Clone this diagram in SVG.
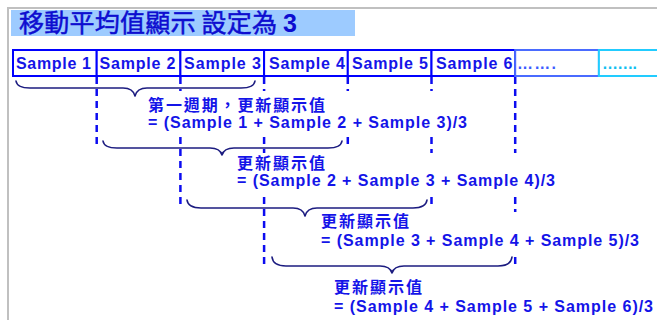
<svg xmlns="http://www.w3.org/2000/svg" width="657" height="320" viewBox="0 0 657 320">
<style>
.frame{fill:none;stroke:#c0c0c0;stroke-width:2}
.cell{fill:#fff;stroke:#0000ff;stroke-width:2}
.lbl{font-family:"Liberation Sans",Arial,sans-serif;font-weight:bold;font-size:16px;fill:#1414e8}
.cjk{font-family:"Noto Sans CJK TC","Noto Sans CJK SC",sans-serif;font-size:16px;font-weight:bold;fill:#1414e8}
.dash{stroke:#0c0cf0;stroke-width:2.5;stroke-dasharray:7 5;fill:none}
.brace{fill:none;stroke:#1c1c80;stroke-width:1.6;stroke-linecap:round;stroke-linejoin:round}
.bg{fill:#fff}
</style>
<rect width="657" height="320" fill="#fff"/>
<path class="frame" d="M8,320 V8 H657"/>
<g id="title">
<rect x="11" y="10" width="344" height="26" fill="#9dcbff"/>
<text x="19" y="32" font-family="Noto Sans CJK TC,Noto Sans CJK SC,sans-serif" font-size="25" fill="#0d0dd0" stroke="#0d0dd0" stroke-width="0.5" textLength="278" lengthAdjust="spacing">移動平均值顯示 設定為 <tspan font-family="Liberation Sans,Arial,sans-serif" font-weight="bold" stroke="none">3</tspan></text>
</g>
<g id="samples">
<g id="s1"><rect class="cell" x="13" y="50" width="83.7" height="26"/><text class="lbl" x="16" y="69" textLength="75" lengthAdjust="spacing">Sample 1</text></g>
<g id="s2"><rect class="cell" x="96.7" y="50" width="83.7" height="26"/><text class="lbl" x="99.5" y="69" textLength="76" lengthAdjust="spacing">Sample 2</text></g>
<g id="s3"><rect class="cell" x="180.4" y="50" width="83.7" height="26"/><text class="lbl" x="184" y="69" textLength="77" lengthAdjust="spacing">Sample 3</text></g>
<g id="s4"><rect class="cell" x="264.1" y="50" width="83.7" height="26"/><text class="lbl" x="269" y="69" textLength="76" lengthAdjust="spacing">Sample 4</text></g>
<g id="s5"><rect class="cell" x="347.8" y="50" width="83.7" height="26"/><text class="lbl" x="352" y="69" textLength="76" lengthAdjust="spacing">Sample 5</text></g>
<g id="s6"><rect class="cell" x="431.5" y="50" width="83.7" height="26"/><text class="lbl" x="436" y="69" textLength="76.5" lengthAdjust="spacing">Sample 6</text></g>
<g id="s7"><rect x="515.2" y="50" width="83.7" height="26" fill="#fff" stroke="#4a6bff" stroke-width="2"/><text class="lbl" x="517" y="69" style="fill:#3a5cff" textLength="39" lengthAdjust="spacing">…….</text></g>
<g id="s8"><rect x="598.9" y="50" width="70" height="26" fill="#fff" stroke="#22ccff" stroke-width="2"/><text class="lbl" x="602" y="69" style="fill:#10c0f0" textLength="35" lengthAdjust="spacing">…….</text></g>
</g>
<g id="guides">
<line class="dash" x1="96.7" y1="77" x2="96.7" y2="147"/>
<line class="dash" x1="180.4" y1="77" x2="180.4" y2="204"/>
<line class="dash" x1="264.1" y1="77" x2="264.1" y2="268"/>
<line class="dash" x1="347.8" y1="77" x2="347.8" y2="148"/>
<line class="dash" x1="431.5" y1="77" x2="431.5" y2="204"/>
<line class="dash" x1="515.2" y1="77" x2="515.2" y2="268"/>
</g>
<g id="step1">
<rect class="bg" x="145" y="91" width="326" height="43"/>
<text class="cjk" x="148" y="110.5" textLength="177" lengthAdjust="spacing">第一週期，更新顯示值</text>
<text class="lbl" x="148" y="128" textLength="319" lengthAdjust="spacing">= (Sample 1 + Sample 2 + Sample 3)/3</text>
</g>
<g id="step2">
<rect class="bg" x="234" y="153" width="326" height="40"/>
<text class="cjk" x="237" y="169" textLength="88" lengthAdjust="spacing">更新顯示值</text>
<text class="lbl" x="237" y="186" textLength="318" lengthAdjust="spacing">= (Sample 2 + Sample 3 + Sample 4)/3</text>
</g>
<g id="step3">
<rect class="bg" x="318" y="212" width="326" height="41"/>
<text class="cjk" x="321" y="227" textLength="88" lengthAdjust="spacing">更新顯示值</text>
<text class="lbl" x="321" y="246" textLength="318" lengthAdjust="spacing">= (Sample 3 + Sample 4 + Sample 5)/3</text>
</g>
<g id="step4">
<rect class="bg" x="331" y="276" width="326" height="42"/>
<text class="cjk" x="334" y="293" textLength="88" lengthAdjust="spacing">更新顯示值</text>
<text class="lbl" x="334" y="312" textLength="319" lengthAdjust="spacing">= (Sample 4 + Sample 5 + Sample 6)/3</text>
</g>
<g id="connectors">
<path class="brace" d="M16,81 Q17,88 30,88 L123,88 Q133,88 135,96 Q137,88 147,88 L241,88 Q254,88 255,81"/>
<path class="brace" d="M103,141 Q104,148 117,148 L210,148 Q220,148 222,155 Q224,148 234,148 L328,148 Q341,148 342,141"/>
<path class="brace" d="M187,200 Q188,208 201,208 L293,208 Q303,208 305,216 Q307,208 317,208 L413,208 Q426,208 427,200"/>
<path class="brace" d="M272,257 Q273,266 286,266 L380,266 Q390,266 392,273 Q394,266 404,266 L498,266 Q511,266 512,257"/>
</g>
</svg>
